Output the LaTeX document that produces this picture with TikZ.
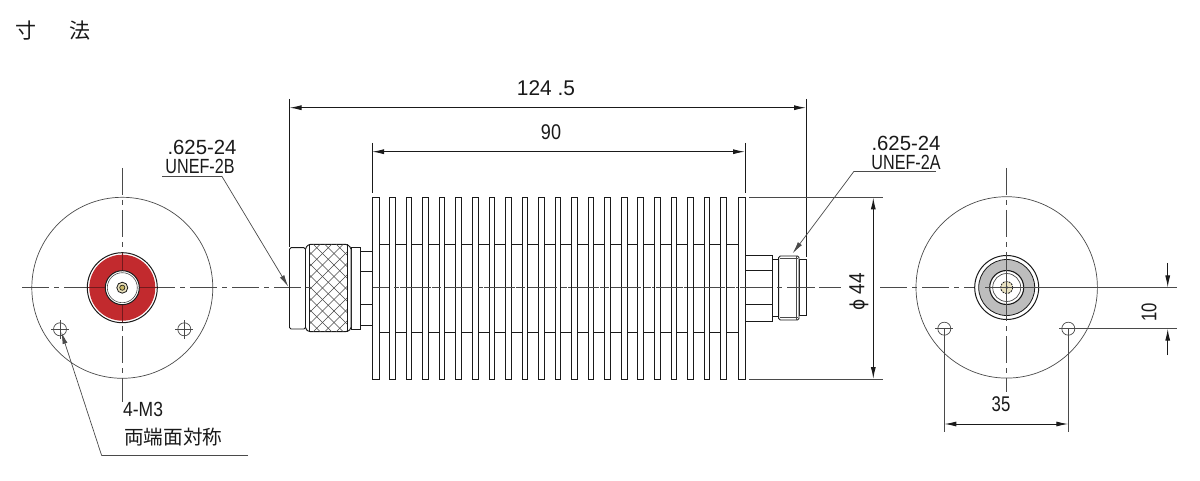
\documentclass[tikz,border=0pt]{standalone}
\usepackage{fontspec}
\setmainfont{Liberation Sans}
\newfontfamily\cjkf{Noto Sans CJK JP}
\newfontfamily\phif{DejaVu Sans}
\usetikzlibrary{arrows.meta}
\definecolor{ink}{HTML}{1A1A1A}
\definecolor{thinline}{HTML}{4A4A4A}
\definecolor{conred}{HTML}{C22A2E}
\definecolor{congray}{HTML}{BDBDBD}
\definecolor{congold}{HTML}{C9B765}
\tikzset{
  x=1pt,y=-1pt,
  body/.style={draw=ink,line width=.95pt,fill=white},
  thin line/.style={draw=thinline,line width=.7pt},
  centerline/.style={draw=thinline,line width=.7pt,dash pattern=on 27pt off 5pt on 5pt off 5pt},
  dimline/.style={draw=ink,line width=.85pt},
  dimarrow/.style={draw=ink,line width=1pt,-{Latex[length=12pt,width=5pt]}},
  label/.style={inner sep=0pt,text=ink,font=\fontsize{19}{19}\selectfont},
  cjk/.style={inner sep=0pt,text=ink,font=\cjkf\fontsize{19.6}{20}\selectfont},
  title/.style={inner sep=0pt,text=ink,font=\cjkf\fontsize{21}{21}\selectfont},
}
\begin{document}
\begin{tikzpicture}
\useasboundingbox[fill=white] (0,0) rectangle (1200,481);

% axes
\path[centerline] (22,287.5) -- (841,287.5);
\path[centerline] (880,287.5) -- (985,287.5);
\path[centerline] (122.3,168) -- (122.3,378);
\draw[thin line] (122.3,378) -- (122.3,402);
\path[centerline] (1006.7,168) -- (1006.7,392);
\draw[thin line] (1097,287.5) -- (1177,287.5);

% ---- left end view
\draw[thin line] (122.3,287.8) circle[radius=90.5];
\foreach \hx in {60,184.3}{
  \draw[thin line] (\hx,329.3) circle[radius=6.5];
  \draw[thin line] (\hx-9,329.3) -- (\hx+9,329.3) (\hx,320) -- (\hx,339);
}
\draw[ink,line width=1pt,fill=white] (122.3,287.7) circle[radius=35];
\fill[conred] (122.3,287.7) circle[radius=33];
\draw[ink,line width=1pt,fill=white] (122.3,287.7) circle[radius=17];
\draw[thinline,line width=.6pt] (122.3,287.7) circle[radius=15];
\draw[ink,line width=.8pt,fill=congold!45] (122.3,287.7) circle[radius=5.5];
\draw[ink,line width=.6pt,fill=congold] (122.3,287.7) circle[radius=2.6];
\draw[conred!60!black,line width=.6pt] (87.5,287.5) -- (105,287.5) (140,287.5) -- (157,287.5)
   (122.3,253) -- (122.3,270) (122.3,305) -- (122.3,322);

% ---- heat sink body
\draw[body] (372,244) -- (745,244) (372,332) -- (745,332);
\draw[body] (372,197.5) rectangle (379,379);
\foreach \k in {0,...,20}{
  \pgfmathsetmacro{\fx}{389.7+16.55*\k}
  \draw[body] (\fx,197.5) rectangle (\fx+5.6,379);
}
\draw[body] (738,197.5) rectangle (745,379);
\path[centerline,dash phase=10pt] (372,287.5) -- (745,287.5);

% ---- left connector
\draw[body] (360,251.3) rectangle (372,325.7);
\draw[body] (360,271.7) -- (372,271.7) (360,304.3) -- (372,304.3);
\draw[body,rounded corners=1.5pt] (289.5,247.7) rectangle (305.5,329);
\draw[body] (351,247.7) rectangle (360,329);
\draw[body,rounded corners=1.5pt] (305.5,247.7) -- (309,244.3) -- (347,244.3) -- (351,247.7) -- (351,329) -- (347,331.7) -- (309,331.7) -- (305.5,329) -- cycle;
\begin{scope}
  \clip (309.5,244.8) rectangle (347,331.2);
  \foreach \d in {-100,-88.5,...,140}{
    \draw[thinline,line width=.6pt] (309.5+\d,244) -- (309.5+\d+90,334);
    \draw[thinline,line width=.6pt] (347-\d,244) -- (347-\d-90,334);
  }
\end{scope}
\draw[body,fill=none] (309.5,244.3) -- (309.5,331.7) (347,244.3) -- (347,331.7);
\path[centerline,dash phase=16pt] (289.5,287.5) -- (309.5,287.5);

% ---- right connector
\draw[body] (745,255.3) rectangle (772.3,321.3);
\draw[body] (745,270.3) -- (772.3,270.3) (745,304.3) -- (772.3,304.3);
\draw[body] (772.3,259.3) rectangle (778.7,316.7);
\draw[body] (799,259.3) rectangle (806,315.7);
\draw[body,rounded corners=1.5pt] (778.7,256) rectangle (799,320);
\draw[thinline,line width=.7pt] (780,258.5) -- (797.5,258.5) (780,317.5) -- (797.5,317.5);
\draw[thinline,line width=.9pt] (796.7,256) -- (796.7,320);
\path[centerline] (745,287.5) -- (841,287.5);

% ---- right end view
\draw[thin line] (1006.7,287.4) circle[radius=90.7];
\foreach \hx in {944.3,1068.3}{
  \draw[thin line] (\hx,328.7) circle[radius=6.5];
  \draw[thin line] (\hx-9,328.7) -- (\hx+9,328.7);
}
\draw[ink,line width=1pt,fill=white] (1006.7,287.5) circle[radius=32];
\draw[ink,line width=.8pt,fill=congray] (1006.7,287.5) circle[radius=28];
\draw[ink,line width=1.1pt,fill=white] (1006.7,287.5) circle[radius=17];
\draw[thinline,line width=.7pt] (1006.7,287.5) circle[radius=14];
\draw[ink,line width=.8pt,fill=congold!40,dash pattern=on 2pt off 1pt] (1006.7,287.5) circle[radius=6];
\fill[ink!70] (1006.7,287.5) circle[radius=1.6];
\draw[thin line] (985,287.5) -- (1097,287.5);
\draw[thin line] (1006.7,255) -- (1006.7,320);

% ---- dimension coordinates
\coordinate (tl) at (289.5,107.7);
\coordinate (tr) at (806,107.7);
\coordinate (ml) at (372,151.7);
\coordinate (mr) at (745,151.7);
\coordinate (dt) at (873.3,197.5);
\coordinate (db) at (873.3,379);
\coordinate (bl) at (944.3,424);
\coordinate (br) at (1068.3,424);

% 124.5
\draw[dimline] (289.5,99) -- (289.5,247);
\draw[dimline] (806,99) -- (806,257);
\draw[dimarrow] (546,107.7) -- (tl);
\draw[dimarrow] (546,107.7) -- (tr);
\node[label,xscale=1.1,yscale=1.12] (t124) at (546,88) {124 .5};
% 90
\draw[dimline] (372,143) -- (372,193);
\draw[dimline] (745,143) -- (745,193);
\draw[dimarrow] (558,151.7) -- (ml);
\draw[dimarrow] (558,151.7) -- (mr);
\node[label,xscale=.95,yscale=1.12] (t90) at (551,132) {90};
% phi 44
\draw[thin line] (749,197.5) -- (883,197.5);
\draw[thin line] (749,379) -- (883,379);
\draw[dimarrow] (873.3,288) -- (dt);
\draw[dimarrow] (873.3,288) -- (db);
\node[label,rotate=90,yscale=1.15] (t44) at (859,291.7) {{\phif\fontsize{17}{17}\selectfont ϕ} 44};
% 35
\draw[thin line] (944.3,329) -- (944.3,431.7);
\draw[thin line] (1068.3,329) -- (1068.3,431.7);
\draw[dimarrow] (1006.3,424) -- (bl);
\draw[dimarrow] (1006.3,424) -- (br);
\node[label,xscale=.88,yscale=1.12] (t35) at (1001,404.5) {35};
% 10
\draw[thin line] (1075,328.7) -- (1177,328.7);
\coordinate (ten1) at (1167.7,287.5);
\coordinate (ten2) at (1167.7,328.7);
\draw[dimarrow] (1167.7,263) -- (ten1);
\draw[dimarrow] (1167.7,355) -- (ten2);
\node[label,rotate=90,xscale=.88,yscale=1.12] (t10) at (1149,312) {10};

% ---- leaders
\coordinate (lb1) at (162,176);
\coordinate (lb2) at (221.7,176);
\coordinate (lbt) at (288.3,286.7);
\draw[thin line] (lb1) -- (lb2);
\draw[thin line,-{Latex[length=12pt,width=5pt]}] (lb2) -- (lbt);
\node[label,xscale=1.07,yscale=1.08] (p1) at (202,147.5) {.625-24};
\node[label,xscale=.85,yscale=1.08] (u1) at (200,166.5) {UNEF-2B};

\coordinate (ra1) at (935.7,171.3);
\coordinate (ra2) at (854,171.3);
\coordinate (rat) at (792.7,253.3);
\draw[thin line] (ra1) -- (ra2);
\draw[thin line,-{Latex[length=12pt,width=5pt]}] (ra2) -- (rat);
\node[label,xscale=1.07,yscale=1.08] (p2) at (906,143) {.625-24};
\node[label,xscale=.85,yscale=1.08] (u2) at (906,162) {UNEF-2A};

\coordinate (m1) at (248,455.7);
\coordinate (m2) at (101.7,455.7);
\coordinate (mt) at (61.3,332);
\draw[thin line] (m1) -- (m2);
\draw[thin line,-{Latex[length=12pt,width=5pt]}] (m2) -- (mt);
\node[label,anchor=west,xscale=.92,yscale=1.08] (m3) at (123,409) {4-M3};
\node[cjk,anchor=west] (sym) at (124,437) {両端面対称};

% title
\node[title] (ts1) at (26,31) {寸};
\node[title] (ts2) at (80,31) {法};
\end{tikzpicture}
\end{document}
